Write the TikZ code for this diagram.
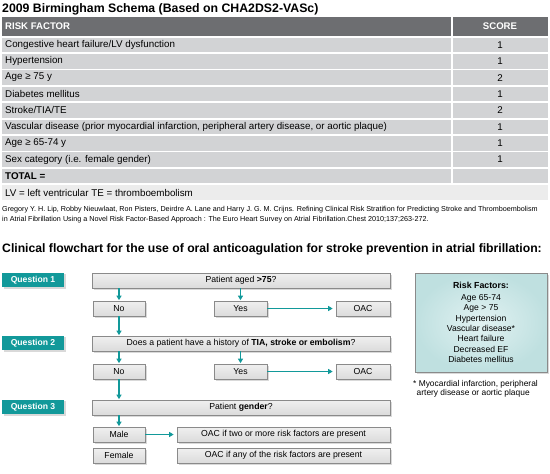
\documentclass[tikz,border=0pt]{standalone}
\usepackage{fontspec}
\setmainfont{Liberation Sans}
\usetikzlibrary{arrows.meta,shadows,positioning}

\definecolor{hdrgray}{HTML}{6D6E71}
\definecolor{rowgray}{HTML}{D2D3D5}
\definecolor{lvgray}{HTML}{ECECEC}
\definecolor{qteal}{HTML}{12999A}
\definecolor{boxline}{HTML}{8A8A8A}
\definecolor{riskin}{HTML}{E2F2F2}
\definecolor{riskout}{HTML}{BFE0E0}

\tikzset{
  cell/.style={inner sep=0pt, font=\fontsize{9.8}{11}\selectfont},
  quest/.style={fill=qteal, text=white, inner sep=0pt, minimum width=62pt, minimum height=14.5pt,
    font=\bfseries\fontsize{8.6}{10}\selectfont,
    drop shadow={shadow xshift=1.5pt, shadow yshift=-1.5pt, opacity=0.3}},
  box/.style={draw=boxline, line width=0.7pt, top color=white!94!black, bottom color=white!86!black,
    inner sep=0pt, minimum height=15pt, font=\fontsize{8.7}{10}\selectfont,
    drop shadow={shadow xshift=1.5pt, shadow yshift=-1.5pt, opacity=0.3}},
  arr/.style={draw=qteal, line width=1.3pt, -{Triangle[length=4.5pt,width=5pt]}, shorten >=0.5pt}
}

\begin{document}
\begin{tikzpicture}[x=1pt, y=-1pt]
  \useasboundingbox (0,0) rectangle (550,474);

  % score table
  \node[anchor=west, inner sep=0pt, font=\bfseries\fontsize{12.3}{14}\selectfont] (title) at (2,9)
    {2009 Birmingham Schema (Based on CHA2DS2-VASc)};
  \fill[hdrgray] (2,17) rectangle (450.5,36);
  \fill[hdrgray] (452.5,17) rectangle (548,36);
  \node[cell, anchor=west, text=white, font=\bfseries\fontsize{9.6}{11}\selectfont] (hfactor) at (5,26.5) {RISK FACTOR};
  \node[cell, text=white, font=\bfseries\fontsize{9.6}{11}\selectfont] (hscore) at (500,26.5) {SCORE};

  \foreach \txt/\sc [count=\i from 0] in {
      {Congestive heart failure/LV dysfunction}/1,
      {Hypertension}/1,
      {Age ≥ 75 y}/2,
      {Diabetes mellitus}/1,
      {Stroke/TIA/TE}/2,
      {Vascular disease (prior myocardial infarction, peripheral artery disease, or aortic plaque)}/1,
      {Age ≥ 65-74 y}/1,
      {Sex category (i.e. female gender)}/1,
      {\textbf{TOTAL =}}/{}}{
    \fill[rowgray] (2,37.5+16.4*\i) rectangle (450.5,52.1+16.4*\i);
    \fill[rowgray] (452.5,37.5+16.4*\i) rectangle (548,52.1+16.4*\i);
    \node[cell, anchor=west] (f\i) at (5,44.8+16.4*\i) {\txt};
    \node[cell] (s\i) at (500,44.8+16.4*\i) {\sc};
  }
  \fill[lvgray] (2,185) rectangle (548,200);
  \node[cell, anchor=west] (lv) at (5,192.5) {LV = left ventricular TE = thromboembolism};

  \node[anchor=west, inner sep=0pt, align=left, font=\fontsize{7.2}{10}\selectfont] (cite) at (2,215)
    {Gregory Y. H. Lip, Robby Nieuwlaat, Ron Pisters, Deirdre A. Lane and Harry J. G. M. Crijns. Refining Clinical Risk Stratifion for Predicting Stroke and Thromboembolism\\
     in Atrial Fibrillation Using a Novel Risk Factor-Based Approach : The Euro Heart Survey on Atrial Fibrillation.Chest 2010;137;263-272.};

  % flowchart
  \node[anchor=west, inner sep=0pt, font=\bfseries\fontsize{12.2}{14}\selectfont] (ftitle) at (2,249)
    {Clinical flowchart for the use of oral anticoagulation for stroke prevention in atrial fibrillation:};

  \node[quest] (q1) at (33,280) {Question 1};
  \node[box, minimum width=298pt] (age) at (241,280.5) {Patient aged \textbf{>75}?};
  \node[box, minimum width=52pt] (no1) at (119,308.5) {No};
  \node[box, minimum width=53pt] (yes1) at (240.5,308.5) {Yes};
  \node[box, minimum width=54pt] (oac1) at (363,308.5) {OAC};

  \node[quest] (q2) at (33,343) {Question 2};
  \node[box, minimum width=298pt] (tia) at (241,343.5) {Does a patient have a history of \textbf{TIA, stroke or embolism}?};
  \node[box, minimum width=52pt] (no2) at (119,371.5) {No};
  \node[box, minimum width=53pt] (yes2) at (240.5,371.5) {Yes};
  \node[box, minimum width=54pt] (oac2) at (363,371.5) {OAC};

  \node[quest] (q3) at (33,407) {Question 3};
  \node[box, minimum width=298pt] (gender) at (241,407.5) {Patient \textbf{gender}?};
  \node[box, minimum width=52pt] (male) at (119,434.5) {Male};
  \node[box, minimum width=213pt] (oacm) at (283.5,434.5) {OAC if two or more risk factors are present};
  \node[box, minimum width=52pt] (female) at (119,455.5) {Female};
  \node[box, minimum width=213pt] (oacf) at (283.5,455.5) {OAC if any of the risk factors are present};

  \draw[arr] (age.south -| no1) -- (no1);
  \draw[arr] (age.south -| yes1) -- (yes1);
  \draw[arr, shorten >=3pt] (yes1) -- (oac1);
  \draw[arr] (no1) -- (no1 |- tia.north);
  \draw[arr] (tia.south -| no2) -- (no2);
  \draw[arr] (tia.south -| yes2) -- (yes2);
  \draw[arr, shorten >=3pt] (yes2) -- (oac2);
  \draw[arr] (no2) -- (no2 |- gender.north);
  \draw[arr] (gender.south -| male) -- (male);
  \draw[arr, shorten >=3pt] (male) -- (oacm);

  % risk factors
  \node[draw=boxline, line width=0.8pt, inner color=riskin, outer color=riskout,
    minimum width=132pt, minimum height=99pt, align=center, inner sep=0pt,
    font=\fontsize{8.6}{10.3}\selectfont,
    drop shadow={shadow xshift=1.5pt, shadow yshift=-1.5pt, opacity=0.3}] (risk) at (481,322.5)
    {\textbf{\fontsize{8.8}{10.3}\selectfont Risk Factors:}\\[1.5pt]
     Age 65-74\\Age > 75\\Hypertension\\Vascular disease*\\Heart failure\\Decreased EF\\Diabetes mellitus};
  \node[anchor=north west, inner sep=0pt, align=left, font=\fontsize{8.4}{9.5}\selectfont] (note) at (413,380)
    {* Myocardial infarction, peripheral\\\hspace{3.5pt}artery disease or aortic plaque};
\end{tikzpicture}
\end{document}
